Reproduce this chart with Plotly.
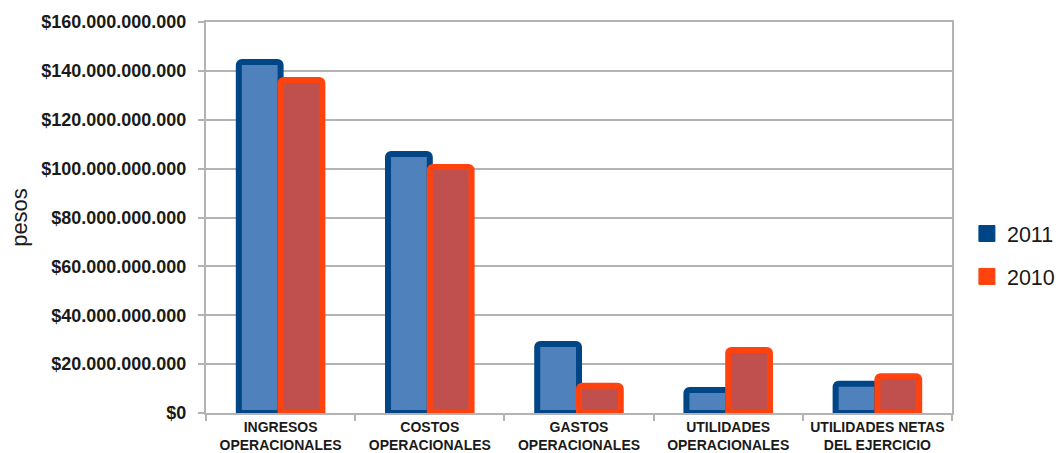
import plotly.graph_objects as go

# Categories (two-line labels) and yearly amounts in pesos
categories = [
    "INGRESOS<br>OPERACIONALES",
    "COSTOS<br>OPERACIONALES",
    "GASTOS<br>OPERACIONALES",
    "UTILIDADES<br>OPERACIONALES",
    "UTILIDADES NETAS<br>DEL EJERCICIO",
]
values_2011 = [143.6e9, 106.0e9, 28.2e9, 9.4e9, 12.0e9]
values_2010 = [136.3e9, 100.7e9, 11.2e9, 25.8e9, 15.0e9]

series = [
    ("2011", values_2011, "#4F81BD", "#004586"),
    ("2010", values_2010, "#C0504D", "#FF420E"),
]

FONT = "Liberation Sans, Arial, sans-serif"
GRID = "#b3b3b3"
TEXT = "#1a1a1a"

fig = go.Figure()

for name, vals, fill, edge in series:
    fig.add_trace(go.Bar(
        x=categories, y=vals, name=name, showlegend=False,
        marker=dict(color=fill, line=dict(color=edge, width=6), cornerradius=3),
    ))

# Legend entries: solid squares in the outline colours
for name, vals, fill, edge in series:
    fig.add_trace(go.Scatter(
        x=[None], y=[None], mode="markers", name=name,
        legendgroup=name,
        marker=dict(symbol="square", size=16, color=edge,
                    line=dict(color=edge, width=1)),
    ))

fig.update_layout(
    width=1058, height=453,
    margin=dict(l=206, r=106, t=22, b=40, autoexpand=False),
    paper_bgcolor="white", plot_bgcolor="white",
    separators=",.",
    barmode="group", bargap=0.44, bargroupgap=0,
    font=dict(family=FONT, color=TEXT),
    legend=dict(
        x=1.02, y=0.404, xanchor="left", yanchor="middle",
        font=dict(family=FONT, size=21.5, color=TEXT),
        traceorder="grouped", tracegroupgap=12,
        itemsizing="trace", bgcolor="rgba(0,0,0,0)",
    ),
)

fig.update_yaxes(
    automargin=False,
    range=[0, 160e9], tickmode="linear", tick0=0, dtick=20e9,
    tickprefix="$", tickformat=",d",
    tickfont=dict(family=FONT, size=18, color=TEXT, weight="bold"),
    showgrid=True, gridcolor=GRID, gridwidth=2,
    showline=True, linecolor=GRID, linewidth=2, mirror=True,
    ticks="outside", ticklen=6, tickcolor=GRID, tickwidth=2,
    ticklabelstandoff=8,
    zeroline=False,
    title=dict(text="pesos", font=dict(family=FONT, size=22, color=TEXT), standoff=8),
)

fig.update_xaxes(
    automargin=False,
    type="category",
    tickfont=dict(family=FONT, size=14, color=TEXT, weight="bold"),
    showline=True, linecolor=GRID, linewidth=2, mirror=True,
    ticks="outside", ticklen=6, tickcolor=GRID, tickwidth=2,
    tickson="boundaries", showgrid=False,
)

fig.write_html("out.html")
